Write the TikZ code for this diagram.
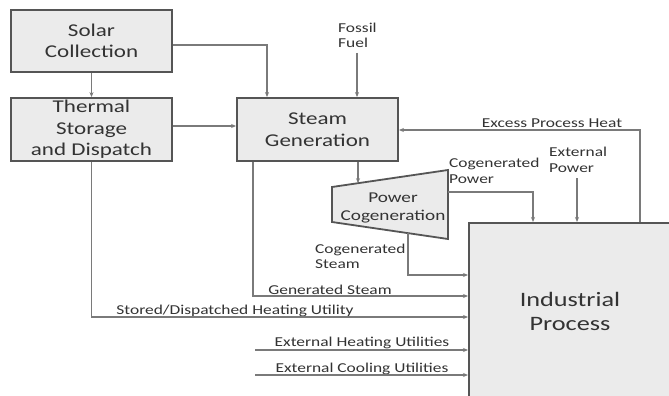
\documentclass[tikz,border=0pt]{standalone}
\usepackage{fontspec}
\setmainfont{Carlito}[FakeStretch=1.28]
\usetikzlibrary{arrows.meta}
\definecolor{txt}{HTML}{333333}
\definecolor{ln}{HTML}{7A7A7A}
\definecolor{bd}{HTML}{555555}
\definecolor{bx}{HTML}{EBEBEB}
\tikzset{
  blockbox/.style={draw=bd, line width=1.8pt, fill=bx, text=txt, align=center,
    font=\fontsize{18}{21.5}\selectfont, inner sep=0pt},
  lbl/.style={text=txt, font=\fontsize{13.6}{15.5}\selectfont, inner sep=0pt},
  arr/.style={draw=ln, line width=1.1pt, -{Stealth[length=5pt,width=4pt]}},
  wire/.style={draw=ln, line width=1.1pt}
}
\begin{document}
\begin{tikzpicture}[x=1pt,y=-1pt]
\useasboundingbox[fill=white] (0,0) rectangle (669,396);
% boxes
\node[blockbox, minimum width=161pt, minimum height=62pt] (solar) at (91.5,41) {Solar\\Collection};
\node[blockbox, minimum width=161pt, minimum height=63pt] (thermal) at (91.5,129.5) {Thermal\\Storage\\and Dispatch};
\node[blockbox, minimum width=161pt, minimum height=63pt] (steam) at (317.5,129.5) {Steam\\Generation};
\node[draw=bd, line width=1.8pt, fill=bx, anchor=north west, minimum width=260pt, minimum height=220pt] (ind) at (468,222) {};
\node[text=txt, align=center, font=\fontsize{20.5}{24}\selectfont] (indl) at (570,311) {Industrial\\Process};
% trapezoid
\coordinate (tl) at (332,187);
\coordinate (bl) at (332,222);
\coordinate (tr) at (448,170);
\coordinate (br) at (448,239);
\draw[draw=bd, line width=1.8pt, fill=bx, line join=miter] (tl) -- (tr) -- (br) -- (bl) -- cycle;
\node[text=txt, align=center, font=\fontsize{15}{18}\selectfont] (pow) at (393,208) {Power\\Cogeneration};
% free-end coordinates
\coordinate (ff) at (357,53);
\coordinate (pin) at (358,183.2);
\coordinate (pout) at (408,233);
\coordinate (ep) at (577,178);
\coordinate (eh) at (255,350);
\coordinate (ec) at (255,375);
% labels
\node[lbl, align=left, anchor=west] (fossil) at (338,35.5) {Fossil\\Fuel};
\node[lbl] (excess) at (552,123) {Excess Process Heat};
\node[lbl, align=left, anchor=west] (cpow) at (449,171) {Cogenerated\\Power};
\node[lbl, align=left, anchor=west] (epow) at (549,160) {External\\Power};
\node[lbl, align=left, anchor=west] (cst) at (315,256.5) {Cogenerated\\Steam};
\node[lbl] (gst) at (330,290) {Generated Steam};
\node[lbl] (sdh) at (235,311) {Stored/Dispatched Heating Utility};
\node[lbl] (ehu) at (362,343) {External Heating Utilities};
\node[lbl] (ecu) at (362,369) {External Cooling Utilities};
% connectors
\draw[arr] (solar.south) -- (thermal.north);
\draw[arr] (solar.east |- 0,45) -| (steam.north -| 267,0);
\draw[arr] (thermal.east |- 0,126) -- (steam.west |- 0,126);
\draw[arr] (ff) -- (steam.north -| ff);
\draw[arr] (ind.north -| 640,0) |- (steam.east |- 0,130);
\draw[arr] (steam.south -| pin) -- (pin);
\draw[arr] (tr |- 0,192) -| (ind.north -| 533,0);
\draw[arr] (ep) -- (ind.north -| ep);
\draw[arr] (pout) |- (ind.west |- 0,275);
\draw[arr] (steam.south -| 253,0) |- (ind.west |- 0,296);
\draw[arr] (thermal.south) |- (ind.west |- 0,317);
\draw[arr] (eh) -- (ind.west |- eh);
\draw[arr] (ec) -- (ind.west |- ec);
\end{tikzpicture}
\end{document}
